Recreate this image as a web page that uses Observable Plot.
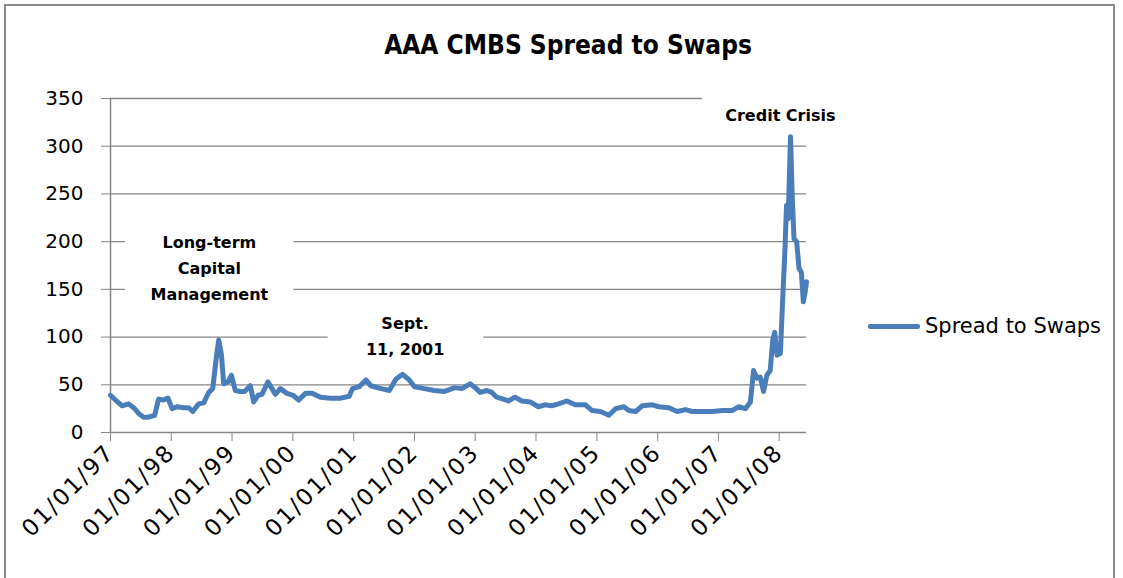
<!DOCTYPE html>
<html>
<head>
<meta charset="utf-8">
<script src="https://cdn.jsdelivr.net/npm/d3@7"></script>
<script src="https://cdn.jsdelivr.net/npm/@observablehq/plot@0.6"></script>
<style>
  html, body { margin: 0; padding: 0; background: #fff; }
  #chart { position: relative; width: 1123px; height: 578px; overflow: hidden; font-family: "DejaVu Sans", sans-serif; color: #000; }
  #frame { position: absolute; left: 4px; top: 4px; width: 1111px; height: 620px; border: 2px solid #8a8a8a; box-sizing: border-box; }
  #title { position: absolute; left: 0; width: 1136px; top: 30px; text-align: center; font-family: "DejaVu Sans Condensed", "DejaVu Sans", sans-serif; font-weight: bold; font-size: 26px; }
  #plot { position: absolute; left: 0; top: 0; }
  #plot g[aria-label="x-axis tick label"] text { letter-spacing: 2px; }
  #legend { position: absolute; left: 868px; top: 314px; display: flex; align-items: center; font-size: 21px; white-space: nowrap; }
  #legend .swatch { width: 52px; height: 5px; background: #4a7ebb; margin-right: 5px; border-radius: 2px; }
</style>
</head>
<body>
<div id="chart">
  <div id="frame"></div>
  <div id="title">AAA CMBS Spread to Swaps</div>
  <div id="plot"></div>
  <div id="legend"><span class="swatch"></span><span id="legend-label"></span></div>
</div>
<script>
// Spread of AAA CMBS over swaps (bp), sampled roughly every few weeks
const dates = [
  "1997-01-01","1997-01-31","1997-03-12","1997-04-20","1997-05-20","1997-06-19","1997-07-19","1997-08-18",
  "1997-09-23","1997-10-17","1997-11-16","1997-12-12","1998-01-06","1998-02-05","1998-03-17","1998-04-16",
  "1998-05-10","1998-06-15","1998-07-15","1998-08-14","1998-09-07","1998-09-29","1998-10-13","1998-10-29",
  "1998-11-12","1998-12-08","1998-12-28","1999-01-21","1999-02-20","1999-03-18","1999-04-21","1999-05-11",
  "1999-06-06","1999-06-30","1999-08-05","1999-08-29","1999-09-18","1999-10-18","1999-11-27","2000-01-02",
  "2000-02-06","2000-03-17","2000-04-27","2000-06-16","2000-08-15","2000-10-15","2000-12-05","2000-12-25",
  "2001-02-03","2001-03-15","2001-04-14","2001-06-14","2001-08-03","2001-09-12","2001-10-22","2001-12-01",
  "2002-01-01","2002-03-01","2002-05-01","2002-07-01","2002-09-01","2002-10-11","2002-12-01","2003-01-01",
  "2003-01-31","2003-03-12","2003-04-10","2003-05-10","2003-06-19","2003-07-19","2003-08-28","2003-10-08",
  "2003-11-27","2004-01-15","2004-02-24","2004-04-04","2004-05-15","2004-07-04","2004-08-24","2004-10-24",
  "2004-12-03","2005-01-22","2005-03-14","2005-04-23","2005-06-12","2005-07-12","2005-08-21","2005-09-30",
  "2005-11-29","2006-01-08","2006-03-09","2006-04-28","2006-06-17","2006-07-27","2006-09-26","2006-11-25",
  "2007-01-24","2007-03-24","2007-05-03","2007-06-12","2007-07-12","2007-07-31","2007-08-20","2007-09-09",
  "2007-09-29","2007-10-19","2007-11-08","2007-11-23","2007-12-05","2007-12-19","2008-01-08","2008-01-23",
  "2008-02-04","2008-02-14","2008-02-24","2008-03-09","2008-03-19","2008-03-30","2008-04-15","2008-04-29",
  "2008-05-13","2008-05-25","2008-06-05","2008-06-13"
];
const spread = [
  39, 34, 28, 30, 26, 20, 16, 16,
  18, 35, 34, 36, 25, 27, 26, 26,
  22, 30, 31, 42, 46, 79, 97, 82,
  51, 53, 60, 44, 43, 43, 49, 32,
  39, 40, 53, 46, 40, 46, 41, 39,
  34, 41, 41, 37, 36, 36, 38, 46,
  48, 55, 49, 46, 44, 56, 61, 55,
  48, 46, 44, 43, 47, 46, 51, 47,
  42, 44, 42, 37, 35, 33, 37, 33,
  32, 27, 29, 28, 30, 33, 29, 29,
  23, 22, 18, 25, 27, 23, 22, 28,
  29, 27, 26, 22, 24, 22, 22, 22,
  23, 23, 27, 25, 32, 65, 57, 58,
  43, 60, 65, 97, 105, 81, 83, 144,
  189, 238, 224, 310, 249, 203, 200, 172,
  168, 137, 147, 158
];
const seriesName = "Spread to Swaps";

// Axis ticks
const yTicks = [0, 50, 100, 150, 200, 250, 300, 350];
const xTickLabels = ["01/01/97","01/01/98","01/01/99","01/01/00","01/01/01","01/01/02",
                     "01/01/03","01/01/04","01/01/05","01/01/06","01/01/07","01/01/08"];

// Event annotations: label, anchor (date, spread) and the white box behind each
const noteLabels = ["Long-term\nCapital\nManagement", "Sept.\n11, 2001", "Credit Crisis"];
const noteDates  = ["1998-08-18", "2001-11-06", "2008-01-08"];
const noteValues = [175, 104, 335];
const noteBoxDates  = [["1997-04-01", "2000-01-08"], ["2000-07-31", "2003-02-21"], ["2006-09-27", "2009-03-17"]];
const noteBoxValues = [[126, 214], [70, 138], [313, 364]];

const parse = d3.utcParse("%Y-%m-%d");
const parseTick = d3.utcParse("%m/%d/%y");
const series = dates.map((d, i) => ({date: parse(d), value: spread[i]}));
const xTicks = xTickLabels.map(parseTick);
const notes = noteLabels.map((label, i) => ({
  label,
  date: parse(noteDates[i]),
  value: noteValues[i],
  x1: parse(noteBoxDates[i][0]),
  x2: parse(noteBoxDates[i][1]),
  y1: noteBoxValues[i][0],
  y2: noteBoxValues[i][1]
}));

const axisGray = "#868686";
const blue = "#4a7ebb";

const chart = Plot.plot({
  width: 1123,
  height: 578,
  marginLeft: 110,
  marginRight: 317,
  marginTop: 98,
  marginBottom: 146,
  style: {fontFamily: "DejaVu Sans", fontSize: "20px", color: "#000", background: "transparent", overflow: "visible"},
  x: {type: "utc", domain: [series[0].date, series[series.length - 1].date]},
  y: {domain: [0, 350]},
  marks: [
    Plot.ruleY(yTicks.filter(d => d > 0), {stroke: axisGray, strokeWidth: 1.3}),
    Plot.rect(notes, {x1: "x1", x2: "x2", y1: "y1", y2: "y2", fill: "white"}),
    Plot.ruleX([series[0].date], {stroke: axisGray, strokeWidth: 1.5}),
    Plot.ruleY([0], {stroke: axisGray, strokeWidth: 1.5}),
    Plot.axisY({ticks: yTicks, tickSize: 9, tickPadding: 18, stroke: axisGray, fill: "#000", label: null, fontSize: 20}),
    Plot.axisX({ticks: xTicks, tickFormat: (d, i) => xTickLabels[i], tickSize: 9, tickPadding: 7,
                tickRotate: -45, stroke: axisGray, fill: "#000", label: null, fontSize: 23}),
    Plot.line(series, {x: "date", y: "value", stroke: blue, strokeWidth: 5, strokeLinejoin: "round", strokeLinecap: "round"}),
    Plot.text(notes, {x: "date", y: "value", text: "label", fontWeight: "bold", fontSize: 16,
                      lineHeight: 1.62, fill: "#000", textAnchor: "middle"})
  ]
});

document.getElementById("plot").append(chart);
document.getElementById("legend-label").textContent = seriesName;
</script>
</body>
</html>
